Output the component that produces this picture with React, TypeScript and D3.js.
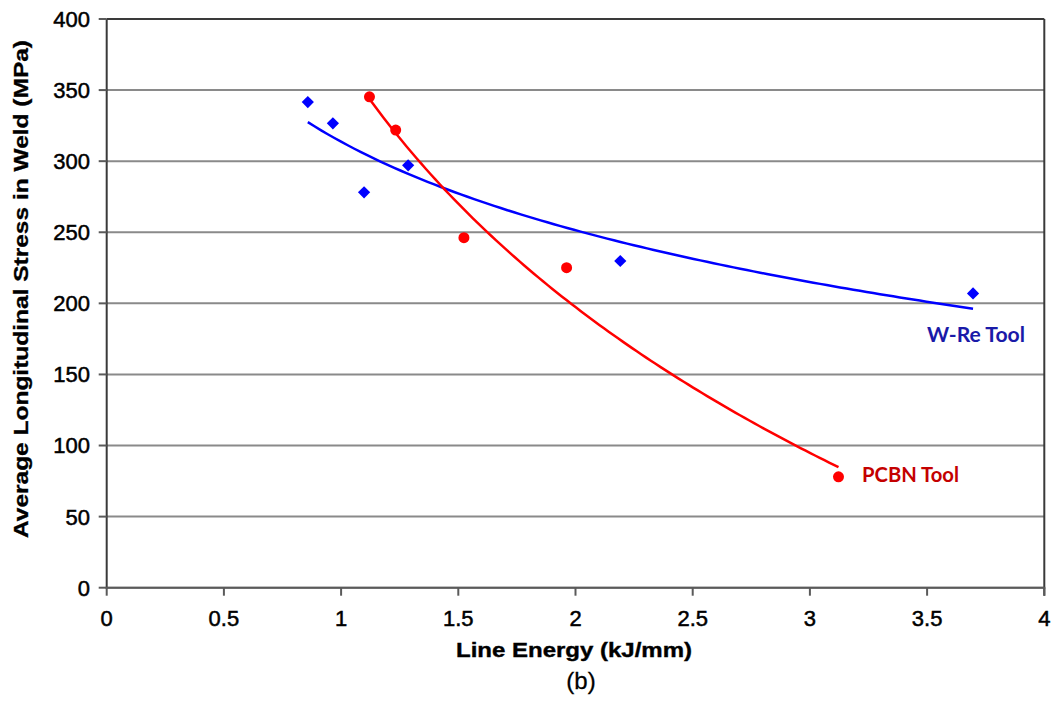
import React from "react";
import * as d3 from "d3";

// W-Re tool data (Line energy kJ/mm, stress MPa)
const wreEnergy = [0.858, 0.965, 1.098, 1.286, 2.191, 3.696];
const wreStress = [341.6, 326.6, 278.1, 297.1, 229.8, 207.0];
// PCBN tool data
const pcbnEnergy = [1.121, 1.233, 1.524, 1.962, 3.122];
const pcbnStress = [345.3, 321.9, 246.2, 225.1, 78.0];

const xTicks = [0, 0.5, 1, 1.5, 2, 2.5, 3, 3.5, 4];
const xTickLabels = ["0", "0.5", "1", "1.5", "2", "2.5", "3", "3.5", "4"];
const yTicks = [0, 50, 100, 150, 200, 250, 300, 350, 400];

const xTitle = "Line Energy (kJ/mm)";
const yTitle = "Average Longitudinal Stress in Weld (MPa)";
const caption = "(b)";
const wreLabel = "W-Re Tool";
const pcbnLabel = "PCBN Tool";

const W = 1053;
const H = 702;

function logFit(xs: number[], ys: number[]) {
  const lx = xs.map((v) => Math.log(v));
  const mx = d3.mean(lx) as number;
  const my = d3.mean(ys) as number;
  let sxy = 0;
  let sxx = 0;
  lx.forEach((v, i) => {
    sxy += (v - mx) * (ys[i] - my);
    sxx += (v - mx) * (v - mx);
  });
  const b = sxy / sxx;
  const a = my - b * mx;
  return (x: number) => a + b * Math.log(x);
}

export default function App() {
  const x = d3.scaleLinear().domain([0, 4]).range([106.7, 1044.3]);
  const y = d3.scaleLinear().domain([0, 400]).range([587.7, 19]);

  const fitW = logFit(wreEnergy, wreStress);
  const fitP = logFit(pcbnEnergy, pcbnStress);
  const sample = (lo: number, hi: number) =>
    d3.range(0, 101).map((i) => lo + ((hi - lo) * i) / 100);
  const line = d3
    .line<[number, number]>()
    .x((d) => x(d[0]))
    .y((d) => y(d[1]));
  const wLo = d3.min(wreEnergy) as number;
  const wHi = d3.max(wreEnergy) as number;
  const pLo = d3.min(pcbnEnergy) as number;
  const pHi = d3.max(pcbnEnergy) as number;
  const wPath = line(sample(wLo, wHi).map((e) => [e, fitW(e)] as [number, number]));
  const pPath = line(sample(pLo, pHi).map((e) => [e, fitP(e)] as [number, number]));

  const diamond = d3.symbol().type(d3.symbolDiamond2).size(95)();

  const x0 = x(0);
  const x1 = x(4);
  const y0 = y(0);
  const y1 = y(400);

  return (
    <svg
      width={W}
      height={H}
      style={{ position: "absolute", left: 0, top: 0, background: "#fff" }}
      fontFamily="'Liberation Sans', Arial, sans-serif"
    >
      <rect x={0} y={0} width={W} height={H} fill="#fff" />
      {/* gridlines */}
      {yTicks.map((t) => (
        <line
          key={"g" + t}
          x1={x0}
          x2={x1}
          y1={y(t)}
          y2={y(t)}
          stroke={t === 400 ? "#3a3a3a" : "#8a8a8a"}
          strokeWidth={2}
        />
      ))}
      {/* axes and border */}
      <line x1={x0} x2={x0} y1={y1} y2={y0 + 1} stroke="#3a3a3a" strokeWidth={2} />
      <line x1={x1} x2={x1} y1={y1} y2={y0 + 8} stroke="#3a3a3a" strokeWidth={2} />
      <line x1={x0 - 1} x2={x1 + 1} y1={y0} y2={y0} stroke="#5a5a5a" strokeWidth={2} />
      {/* y ticks */}
      {yTicks.map((t) => (
        <g key={"yt" + t}>
          <line x1={x0 - 8} x2={x0} y1={y(t)} y2={y(t)} stroke="#5a5a5a" strokeWidth={2} />
          <text
            x={90}
            y={y(t)}
            dy="0.36em"
            textAnchor="end"
            fontSize={22}
            fill="#000"
            stroke="#000"
            strokeWidth={0.5}
          >
            {t}
          </text>
        </g>
      ))}
      {/* x ticks */}
      {xTicks.map((t, i) => (
        <g key={"xt" + t}>
          <line x1={x(t)} x2={x(t)} y1={y0} y2={y0 + 8} stroke="#5a5a5a" strokeWidth={2} />
          <text
            x={x(t)}
            y={626}
            textAnchor="middle"
            fontSize={22}
            fill="#000"
            stroke="#000"
            strokeWidth={0.5}
          >
            {xTickLabels[i]}
          </text>
        </g>
      ))}
      {/* titles */}
      <text
        x={574}
        y={657}
        textAnchor="middle"
        fontSize={21}
        fontWeight="bold"
        fill="#000"
        stroke="#000"
        strokeWidth={0.4}
        textLength={236}
        lengthAdjust="spacingAndGlyphs"
      >
        {xTitle}
      </text>
      <text x={581} y={689} textAnchor="middle" fontSize={24} fill="#000" stroke="#000" strokeWidth={0.3}>
        {caption}
      </text>
      <text
        transform={`translate(28,289) rotate(-90)`}
        textAnchor="middle"
        fontSize={20}
        fontWeight="bold"
        fill="#000"
        stroke="#000"
        strokeWidth={0.3}
        textLength={498}
        lengthAdjust="spacingAndGlyphs"
      >
        {yTitle}
      </text>
      {/* trend lines */}
      <path d={wPath || ""} fill="none" stroke="#0000ff" strokeWidth={2.5} />
      <path d={pPath || ""} fill="none" stroke="#ff0000" strokeWidth={2.5} />
      {/* markers */}
      {wreEnergy.map((e, i) => (
        <path
          key={"w" + i}
          d={diamond || ""}
          transform={`translate(${x(e)},${y(wreStress[i])})`}
          fill="#0000ff"
        />
      ))}
      {pcbnEnergy.map((e, i) => (
        <circle key={"p" + i} cx={x(e)} cy={y(pcbnStress[i])} r={5.5} fill="#ff0000" />
      ))}
      {/* labels */}
      <text
        x={927}
        y={342}
        fontFamily="Lato, 'Open Sans', sans-serif"
        fontWeight="bold"
        fontSize={21}
        fill="#1a1aa8"
        textLength={98}
        lengthAdjust="spacingAndGlyphs"
      >
        {wreLabel}
      </text>
      <text
        x={862}
        y={482}
        fontFamily="Lato, 'Open Sans', sans-serif"
        fontWeight="bold"
        fontSize={21}
        fill="#c40000"
        textLength={97}
        lengthAdjust="spacingAndGlyphs"
      >
        {pcbnLabel}
      </text>
    </svg>
  );
}
